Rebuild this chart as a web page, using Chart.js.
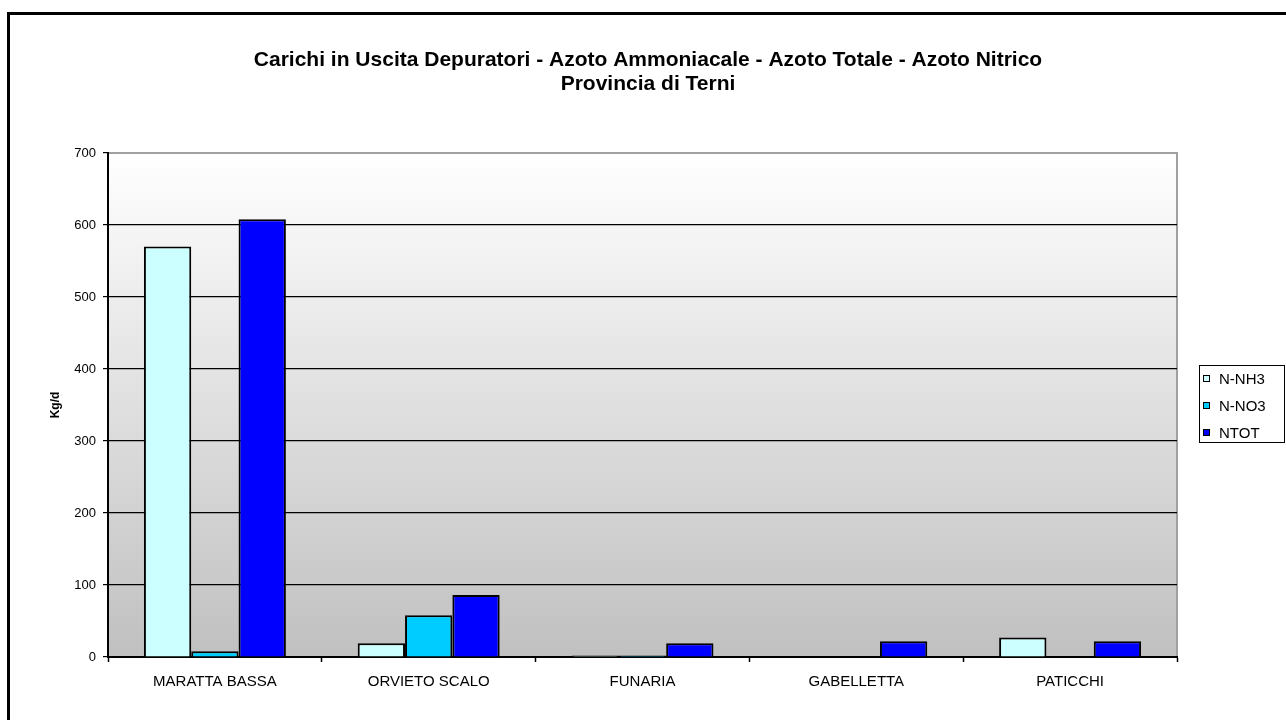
<!DOCTYPE html>
<html>
<head>
<meta charset="utf-8">
<title>Carichi in Uscita Depuratori - Provincia di Terni</title>
<script src="https://cdn.jsdelivr.net/npm/chart.js@4"></script>
<style>
  html, body { margin: 0; padding: 0; background: #fff; overflow: hidden; }
  .wrap { position: relative; width: 1286px; height: 720px; }
  .frame {
    position: absolute; left: 7px; top: 12px; width: 1400px; height: 800px;
    border: 3px solid #000; box-sizing: border-box; pointer-events: none;
  }
  canvas { position: absolute; left: 0; top: 0; }
</style>
</head>
<body>
<div class="wrap">
  <canvas id="chartCarichi" width="1286" height="720"></canvas>
  <div class="frame"></div>
</div>
<script>
// ====== DATI ======
const impianti = ["MARATTA BASSA", "ORVIETO SCALO", "FUNARIA", "GABELLETTA", "PATICCHI"];
const nNH3 = [570, 19, 2, 0, 27];
const nNO3 = [8, 58, 2, 0, 0];
const nTOT = [608, 86, 19, 22, 22];
const serieNomi = ["N-NH3", "N-NO3", "NTOT"];
const serieColori = ["#ccffff", "#00ccff", "#0000ff"];
const yTicks = [0, 100, 200, 300, 400, 500, 600, 700];
const titolo = [
  "Carichi in Uscita Depuratori - Azoto Ammoniacale - Azoto Totale - Azoto Nitrico",
  "Provincia di Terni",
];

const font = "Liberation Sans, Arial, sans-serif";

// sfondo sfumato + bordo grigio dell'area del grafico
const plotBackground = {
  id: "plotBackground",
  beforeDraw(chart) {
    const { ctx, chartArea: a } = chart;
    ctx.save();
    const g = ctx.createLinearGradient(0, a.top, 0, a.bottom);
    g.addColorStop(0, "#ffffff");
    g.addColorStop(1, "#c0c0c0");
    ctx.fillStyle = g;
    ctx.fillRect(a.left, a.top, a.right - a.left, a.bottom - a.top);
    ctx.strokeStyle = "#a0a0a0";
    ctx.lineWidth = 2;
    ctx.beginPath();
    ctx.moveTo(a.left, a.top);
    ctx.lineTo(a.right, a.top);
    ctx.lineTo(a.right, a.bottom);
    ctx.stroke();
    ctx.restore();
  },
};

// titolo centrato sull'intera area (non solo sul grafico)
const titoloCentrato = {
  id: "titoloCentrato",
  afterDraw(chart) {
    const ctx = chart.ctx;
    ctx.save();
    ctx.font = "bold 21px " + font;
    ctx.fillStyle = "#000";
    ctx.textAlign = "center";
    ctx.textBaseline = "alphabetic";
    titolo.forEach((riga, i) => {
      ctx.fillText(riga, 648, 66 + i * 24);
    });
    ctx.restore();
  },
};

// legenda con riquadro, come in Excel
const boxLegend = {
  id: "boxLegend",
  afterDraw(chart) {
    const ctx = chart.ctx;
    const x = 1199, y = 365, w = 86, h = 78;
    ctx.save();
    ctx.fillStyle = "#fff";
    ctx.fillRect(x, y, w, h);
    ctx.strokeStyle = "#000";
    ctx.lineWidth = 1;
    ctx.strokeRect(x + 0.5, y + 0.5, w - 1, h - 1);
    ctx.font = "15px " + font;
    ctx.textBaseline = "middle";
    chart.data.datasets.forEach((ds, i) => {
      const cy = y + 14 + i * 27;
      ctx.fillStyle = ds.backgroundColor;
      ctx.fillRect(x + 4, cy - 4, 7, 7);
      ctx.strokeRect(x + 4.5, cy - 3.5, 6, 6);
      ctx.fillStyle = "#000";
      ctx.fillText(ds.label, x + 20, cy + 1);
    });
    ctx.restore();
  },
};

const serie = [nNH3, nNO3, nTOT];

new Chart(document.getElementById("chartCarichi"), {
  type: "bar",
  data: {
    labels: impianti,
    datasets: serie.map((dati, i) => ({
      label: serieNomi[i],
      data: dati,
      backgroundColor: serieColori[i],
      borderColor: "#000",
      borderWidth: 2,
      categoryPercentage: 0.664,
      barPercentage: 1.0,
    })),
  },
  options: {
    responsive: false,
    animation: false,
    layout: { padding: { left: 48, right: 109, top: 153, bottom: 0 } },
    plugins: {
      legend: { display: false },
      tooltip: { enabled: false },
      title: { display: false },
    },
    scales: {
      x: {
        offset: true,
        grid: {
          offset: true,
          drawOnChartArea: false,
          drawTicks: true,
          tickLength: 5,
          tickWidth: 1.5,
          tickColor: "#000",
        },
        border: { color: "#000", width: 2 },
        ticks: { color: "#000", font: { family: font, size: 15 }, padding: 11, maxRotation: 0 },
        afterFit(scale) { scale.height = 63; },
      },
      y: {
        min: 0,
        max: 700,
        afterBuildTicks(scale) { scale.ticks = yTicks.map((v) => ({ value: v })); },
        grid: {
          color: (c) => (c.tick && c.tick.value === 700 ? "rgba(0,0,0,0)" : "#000"),
          lineWidth: 1.2,
          tickLength: 5,
          tickColor: "#000",
        },
        border: { color: "#000", width: 2 },
        ticks: { color: "#000", font: { family: font, size: 13 }, padding: 7 },
        title: {
          display: true,
          text: "Kg/d",
          color: "#000",
          font: { family: font, size: 12, weight: "bold" },
          padding: 0,
        },
        afterFit(scale) { scale.width = 60; },
      },
    },
  },
  plugins: [plotBackground, boxLegend, titoloCentrato],
});
</script>
</body>
</html>
